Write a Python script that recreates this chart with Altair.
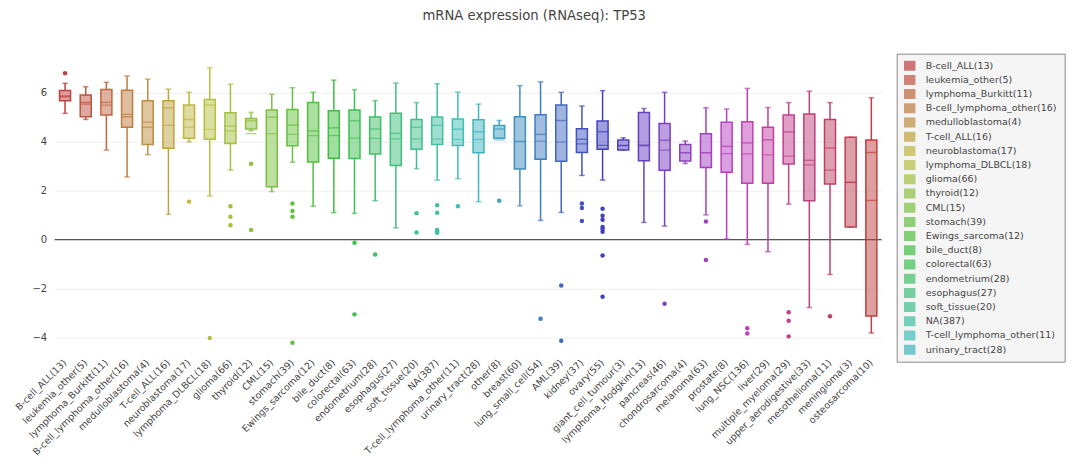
import altair as alt
import pandas as pd
import colorsys

names = ["B-cell_ALL", "leukemia_other", "lymphoma_Burkitt", "B-cell_lymphoma_other",
         "medulloblastoma", "T-cell_ALL", "neuroblastoma", "lymphoma_DLBCL", "glioma",
         "thyroid", "CML", "stomach", "Ewings_sarcoma", "bile_duct", "colorectal",
         "endometrium", "esophagus", "soft_tissue", "NA", "T-cell_lymphoma_other",
         "urinary_tract", "other", "breast", "lung_small_cell", "AML", "kidney", "ovary",
         "giant_cell_tumour", "lymphoma_Hodgkin", "pancreas", "chondrosarcoma", "melanoma",
         "prostate", "lung_NSC", "liver", "multiple_myeloma", "upper_aerodigestive",
         "mesothelioma", "meningioma", "osteosarcoma"]
counts = [13, 5, 11, 16, 4, 16, 17, 18, 66, 12, 15, 39, 12, 8, 63, 28, 27, 20, 387, 11,
          28, 8, 60, 54, 39, 37, 55, 3, 13, 46, 4, 63, 8, 136, 29, 29, 33, 11, 3, 10]

upper = [6.39, 6.25, 6.43, 6.69, 6.56, 6.15, 6.02, 7.03, 6.35, 5.20,
         5.94, 6.21, 6.02, 6.52, 6.13, 5.68, 6.40, 5.60, 6.37, 6.03,
         5.54, 4.87, 6.29, 6.45, 6.02, 5.46, 6.09, 4.16, 5.36, 6.02,
         4.03, 5.39, 5.34, 6.18, 5.40, 5.60, 6.07, 5.60, 4.18, 5.80]
q3 = [6.09, 5.91, 6.14, 6.11, 5.68, 5.68, 5.50, 5.73, 5.19, 4.95,
      5.30, 5.32, 5.60, 5.27, 5.30, 5.01, 5.16, 4.91, 5.01, 4.93,
      4.90, 4.66, 5.02, 5.10, 5.50, 4.53, 4.85, 4.07, 5.20, 4.75,
      3.89, 4.33, 4.80, 4.82, 4.59, 5.09, 5.13, 4.91, 4.18, 4.07]
median = [5.84, 5.61, 5.61, 5.02, 4.59, 5.39, 4.91, 5.50, 4.64, 4.85,
          5.00, 4.68, 4.44, 4.57, 4.86, 4.52, 4.34, 4.59, 4.67, 4.51,
          4.41, 4.52, 4.01, 4.30, 4.87, 4.10, 4.41, 3.84, 3.84, 4.06,
          3.55, 3.55, 3.81, 3.95, 4.08, 4.40, 3.24, 3.74, 2.34, 3.56]
mean = [5.88, 5.54, 5.50, 5.12, 4.80, 4.67, 4.60, 4.51, 4.44, 4.33,
        4.33, 4.30, 4.25, 4.25, 4.15, 4.14, 4.12, 4.12, 4.11, 4.10,
        4.10, 4.07, 4.01, 4.03, 3.99, 3.91, 3.85, 3.85, 3.86, 3.66,
        3.55, 3.55, 3.51, 3.50, 3.46, 3.41, 3.05, 2.84, 2.34, 1.60]
q1 = [5.68, 5.02, 5.09, 4.59, 3.89, 3.73, 4.14, 4.10, 3.93, 4.52,
      2.16, 3.84, 3.17, 3.32, 3.31, 3.50, 3.03, 3.69, 3.89, 3.85,
      3.55, 4.14, 2.88, 3.28, 3.20, 3.56, 3.69, 3.66, 3.22, 2.83,
      3.21, 2.95, 2.75, 2.30, 2.30, 3.09, 1.59, 2.27, 0.51, -3.13]
lower = [5.16, 4.91, 3.66, 2.56, 3.47, 1.03, 4.00, 1.78, 2.84, 4.45,
         1.96, 3.16, 1.36, 1.10, 1.07, 1.59, 0.48, 2.90, 2.43, 2.49,
         1.55, 4.14, 1.38, 0.78, 1.11, 2.62, 2.43, 3.66, 0.70, 0.55,
         3.11, 1.01, 0.02, -0.20, -0.50, 1.45, -2.78, -1.43, 0.51, -3.82]
outliers = [[6.80], [], [], [], [], [], [1.55], [-4.03], [1.36, 0.93, 0.58], [3.10, 0.39],
            [], [1.47, 1.17, 0.93, -4.22], [], [], [-0.13, -3.06], [-0.61], [], [1.08, 0.29],
            [1.40, 1.10, 0.39, 0.33, 0.28], [1.36],
            [], [1.59], [], [-3.24], [-1.88, -4.14], [1.47, 1.29, 0.76],
            [1.26, 0.97, 0.81, 0.51, 0.43, 0.32, -0.65, -2.34], [], [], [-2.63],
            [], [0.74, -0.84], [], [-3.63, -3.84], [], [-2.97, -3.32, -3.96], [], [-3.14], [], []]

labels = [f"{n}({c})" for n, c in zip(names, counts)]


def hsl_hex(h, s, l):
    r, g, b = colorsys.hls_to_rgb(h / 360.0, l, s)
    return "#%02x%02x%02x" % (round(r * 255), round(g * 255), round(b * 255))


colors = [hsl_hex(360.0 * i / (len(labels) - 1), 0.5, 0.5) for i in range(len(labels))]

stats = pd.DataFrame({"label": labels, "upper": upper, "q3": q3, "median": median,
                      "mean": mean, "q1": q1, "lower": lower})
out_rows = [(lab, v) for lab, vals in zip(labels, outliers) for v in vals]
outs = pd.DataFrame(out_rows, columns=["label", "value"])
zero_df = pd.DataFrame({"zero": [0]})

FONT = "DejaVu Sans"
xscale = alt.Scale(type="band", domain=labels, paddingInner=0, paddingOuter=0)
yscale = alt.Scale(domain=[-4.75, 7.6], nice=False, zero=False)
x_axis = alt.Axis(title=None, labelAngle=315, labelAlign="right", labelBaseline="middle",
                  labelFont=FONT, labelFontSize=9.5, labelColor="#444", labelPadding=5,
                  ticks=False, domain=False, grid=False, labelLimit=300)
y_axis = alt.Axis(title=None, values=[-4, -2, 0, 2, 4, 6], format="d", labelFont=FONT,
                  labelFontSize=10, labelColor="#444", labelPadding=8, ticks=False,
                  domain=False, grid=True, gridColor="#eeeeee", gridWidth=1)
cscale = alt.Scale(domain=labels, range=colors)

legend = alt.Legend(
    title=None, values=labels[:21], orient="right", offset=15,
    symbolType="square", symbolSize=100, symbolStrokeWidth=1.5, symbolOpacity=0.7,
    labelFont=FONT, labelFontSize=9.5, labelColor="#444", rowPadding=4.2, padding=7,
    clipHeight=10,
    strokeColor="#888888", fillColor="#f5f5f5", labelOffset=10, labelLimit=200,
)

X = alt.X("label:N", scale=xscale, axis=x_axis, sort=labels)
C = alt.Color("label:N", scale=cscale, legend=legend)


def Yf(field):
    return alt.Y(f"{field}:Q", scale=yscale, axis=y_axis)


base = alt.Chart(stats)

zero = alt.Chart(zero_df).mark_rule(color="#555555", strokeWidth=1.2).encode(y=Yf("zero"))

whisk_hi = base.mark_rule(strokeWidth=1.5).encode(x=X, y=Yf("q3"), y2="upper:Q", color=C)
whisk_lo = base.mark_rule(strokeWidth=1.5).encode(x=X, y=Yf("lower"), y2="q1:Q", color=C)
cap_hi = base.mark_tick(size=5.5, thickness=1.5).encode(x=X, y=Yf("upper"), color=C)
cap_lo = base.mark_tick(size=5.5, thickness=1.5).encode(x=X, y=Yf("lower"), color=C)

box_fill = base.mark_bar(size=11, fillOpacity=0.5, strokeWidth=0).encode(
    x=X, y=Yf("q1"), y2="q3:Q", color=C)
box_line = base.mark_bar(size=11, filled=False, strokeWidth=1.5).encode(
    x=X, y=Yf("q1"), y2="q3:Q", color=C)
med = base.mark_tick(size=11, thickness=1.5).encode(x=X, y=Yf("median"), color=C)
mn = base.mark_tick(size=10, thickness=0.01, filled=False, strokeDash=[3, 2],
                    strokeWidth=1.2).encode(x=X, y=Yf("mean"), color=C)

pts = alt.Chart(outs).mark_circle(size=20, opacity=1).encode(x=X, y=Yf("value"), color=C)

chart = alt.layer(zero, whisk_hi, whisk_lo, cap_hi, cap_lo, box_fill, box_line, med, mn,
                  pts).properties(
    width=827, height=302,
    autosize=alt.AutoSizeParams(type="none"),
    padding={"left": 46.7, "top": 45.7, "right": 189, "bottom": 106},
    title=alt.Title("mRNA expression (RNAseq): TP53", font=FONT, fontSize=13.2,
                    fontWeight="normal", color="#444", anchor="middle", frame="group",
                    dx=66, baseline="bottom", offset=17),
).configure_view(strokeWidth=0)

chart.save("out.html", embed_options={"renderer": "svg", "actions": False})
